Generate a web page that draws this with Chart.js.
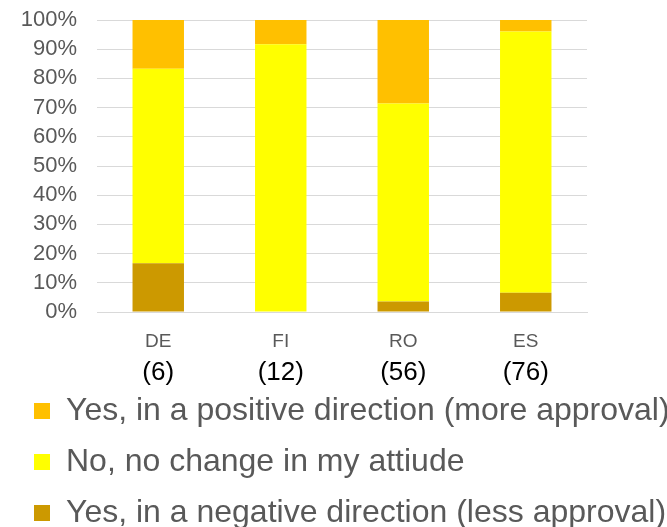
<!DOCTYPE html>
<html>
<head>
<meta charset="utf-8">
<script src="https://cdn.jsdelivr.net/npm/chart.js@4"></script>
<style>
  html, body { margin: 0; padding: 0; background: #ffffff; }
  #wrap { width: 667px; height: 527px; }
</style>
</head>
<body>
<div id="wrap"><canvas id="c" width="667" height="527"></canvas></div>
<script>
const categories = ['DE', 'FI', 'RO', 'ES'];
const counts = ['(6)', '(12)', '(56)', '(76)'];
const seriesNames = [
  'Yes, in a negative direction (less approval)',
  'No, no change in my attiude',
  'Yes, in a positive direction (more approval)'
];
const negative = [16.7, 0, 3.6, 6.6];
const noChange = [66.6, 91.7, 67.8, 89.5];
const positive = [16.7, 8.3, 28.6, 3.9];
const yTicks = [0, 10, 20, 30, 40, 50, 60, 70, 80, 90, 100];

const FONT = '"Liberation Sans", Arial, sans-serif';
const GREY = '#595959';

new Chart(document.getElementById('c'), {
  type: 'bar',
  data: {
    labels: categories,
    datasets: [
      { label: seriesNames[0], data: negative, backgroundColor: '#CC9900' },
      { label: seriesNames[1], data: noChange, backgroundColor: '#FFFF00' },
      { label: seriesNames[2], data: positive, backgroundColor: '#FFC000' }
    ]
  },
  options: {
    responsive: false,
    animation: false,
    devicePixelRatio: 1,
    barPercentage: 0.42,
    categoryPercentage: 1,
    layout: { padding: { left: 15, right: 0, top: 20, bottom: 0 } },
    plugins: {
      tooltip: { enabled: false },
      legend: {
        position: 'bottom',
        align: 'start',
        reverse: true,
        maxHeight: 151,
        labels: {
          boxWidth: 16,
          boxHeight: 16,
          padding: 19,
          color: GREY,
          font: { family: FONT, size: 32 }
        }
      }
    },
    scales: {
      x: {
        stacked: true,
        position: 'bottom',
        weight: 0,
        afterFit: (s) => { s.height = 43; },
        grid: { display: false, drawTicks: false },
        border: { display: true, color: '#d9d9d9', width: 1 },
        ticks: { color: GREY, padding: 18, font: { family: FONT, size: 19 } }
      },
      x2: {
        type: 'category',
        labels: counts,
        position: 'bottom',
        weight: 1,
        offset: true,
        afterFit: (s) => { s.height = 21; s._computeLabelArea = () => undefined; },
        grid: { display: false, drawTicks: false },
        border: { display: false },
        ticks: { color: '#000000', padding: 2, font: { family: FONT, size: 26 } }
      },
      y: {
        stacked: true,
        min: 0,
        max: 100,
        afterBuildTicks: (s) => { s.ticks = yTicks.map(v => ({ value: v })); },
        afterFit: (s) => { s.width = 82; s.paddingTop = 0; s.paddingBottom = 0; },
        grid: { color: '#d9d9d9', lineWidth: 1, drawTicks: false },
        border: { display: false },
        ticks: {
          autoSkip: false,
          color: GREY,
          padding: 20,
          font: { family: FONT, size: 22 },
          callback: (v) => v + '%'
        }
      },
      yR: {
        type: 'linear',
        position: 'right',
        display: true,
        afterFit: (s) => { s.width = 80; },
        grid: { display: false, drawTicks: false },
        border: { display: false },
        ticks: { display: false }
      }
    }
  }
});
</script>
</body>
</html>
